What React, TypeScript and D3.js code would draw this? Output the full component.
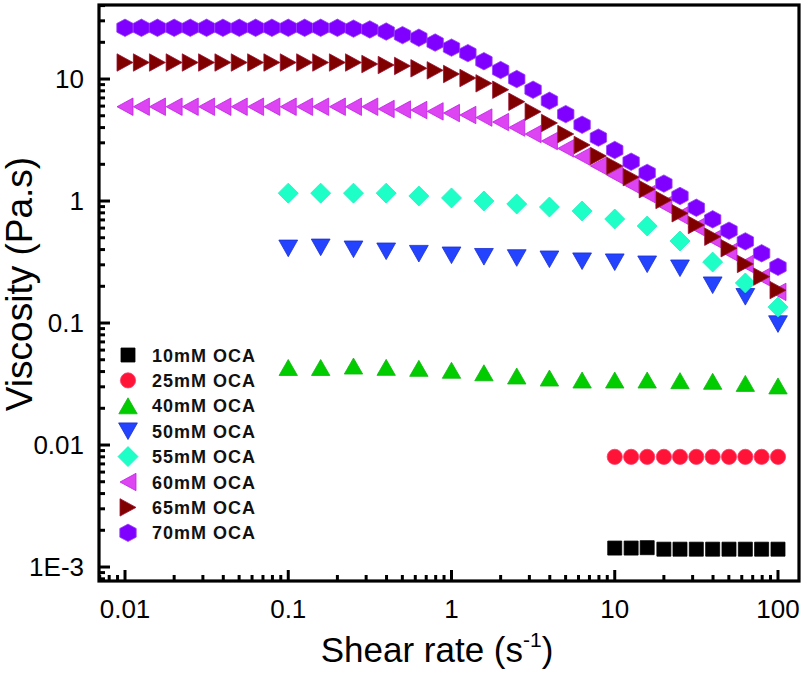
import React from 'react';
import * as d3 from 'd3';

// shear rates (s-1) of the three sweeps
const rateFine = [
  0.01, 0.0126, 0.0158, 0.02, 0.0251, 0.0316, 0.0398, 0.0501, 0.0631, 0.0794,
  0.1, 0.126, 0.158, 0.2, 0.251, 0.316, 0.398, 0.501, 0.631, 0.794,
  1, 1.26, 1.58, 2, 2.51, 3.16, 3.98, 5.01, 6.31, 7.94,
  10, 12.6, 15.8, 20, 25.1, 31.6, 39.8, 50.1, 63.1, 79.4, 100,
];
const rateCoarse = [0.1, 0.158, 0.251, 0.398, 0.631, 1, 1.58, 2.51, 3.98, 6.31, 10, 15.8, 25.1, 39.8, 63.1, 100];
const rateHigh = [10, 12.6, 15.8, 20, 25.1, 31.6, 39.8, 50.1, 63.1, 79.4, 100];

// viscosity (Pa.s)
const visc10 = [0.00143, 0.00143, 0.00144, 0.0014, 0.0014, 0.0014, 0.0014, 0.0014, 0.0014, 0.0014, 0.0014];
const visc25 = [0.008, 0.008, 0.008, 0.008, 0.008, 0.008, 0.008, 0.008, 0.008, 0.008, 0.008];
const visc40 = [0.0432, 0.0432, 0.0444, 0.0433, 0.0425, 0.041, 0.0391, 0.0368, 0.0354, 0.0341, 0.0341, 0.0341, 0.0337, 0.0333, 0.032, 0.0305];
const visc50 = [0.409, 0.417, 0.402, 0.387, 0.37, 0.359, 0.349, 0.341, 0.333, 0.321, 0.315, 0.303, 0.281, 0.204, 0.164, 0.098];
const visc55 = [1.16, 1.16, 1.16, 1.16, 1.1, 1.06, 1.0, 0.945, 0.893, 0.828, 0.712, 0.624, 0.47, 0.316, 0.213, 0.135];
const visc60 = [
  5.93, 5.93, 5.93, 5.93, 5.93, 5.93, 5.93, 5.93, 5.93, 5.93, 5.93, 5.93, 5.93, 5.93, 5.93, 5.93,
  5.68, 5.62, 5.57, 5.43, 5.26, 5.07, 4.83, 4.44, 4.0, 3.54, 3.1, 2.7, 2.31, 1.94, 1.63, 1.365,
  1.14, 0.928, 0.76, 0.612, 0.489, 0.382, 0.305, 0.238, 0.18,
];
const visc65 = [
  13.66, 13.66, 13.66, 13.66, 13.66, 13.66, 13.66, 13.66, 13.66, 13.66, 13.66, 13.66, 13.66, 13.66, 13.66,
  13.27, 13.02, 12.8, 12.24, 11.78, 10.99, 10.19, 9.22, 8.17, 6.51, 5.4, 4.36, 3.54, 2.88, 2.34, 1.94,
  1.57, 1.25, 1.02, 0.793, 0.636, 0.51, 0.41, 0.305, 0.24, 0.186,
];
const visc70 = [
  26.3, 26.3, 26.3, 26.3, 26.3, 26.3, 26.3, 26.3, 26.3, 26.3, 26.3, 26.3, 26.3, 26.3,
  25.9, 25.5, 24.5, 22.9, 21.8, 19.9, 18.1, 16.3, 14.0, 11.85, 10.0, 8.17, 6.63, 5.16, 4.22, 3.31,
  2.62, 2.1, 1.7, 1.39, 1.1, 0.881, 0.708, 0.571, 0.467, 0.373, 0.289,
];

const seriesNames = ['10mM OCA', '25mM OCA', '40mM OCA', '50mM OCA', '55mM OCA', '60mM OCA', '65mM OCA', '70mM OCA'];
const xTickLabels = ['0.01', '0.1', '1', '10', '100'];
const yTickLabels = ['1E-3', '0.01', '0.1', '1', '10'];
const xTickValues = [0.01, 0.1, 1, 10, 100];
const yTickValues = [0.001, 0.01, 0.1, 1, 10];

type Shape = 'square' | 'circle' | 'up' | 'down' | 'diamond' | 'left' | 'right' | 'hexagon';

const series: { name: string; x: number[]; y: number[]; shape: Shape; fill: string; stroke: string }[] = [
  { name: seriesNames[0], x: rateHigh, y: visc10, shape: 'square', fill: '#000000', stroke: '#000000' },
  { name: seriesNames[1], x: rateHigh, y: visc25, shape: 'circle', fill: '#ff1438', stroke: '#ff3a6a' },
  { name: seriesNames[2], x: rateCoarse, y: visc40, shape: 'up', fill: '#00cc00', stroke: '#10b810' },
  { name: seriesNames[3], x: rateCoarse, y: visc50, shape: 'down', fill: '#2343ff', stroke: '#1a2fd0' },
  { name: seriesNames[4], x: rateCoarse, y: visc55, shape: 'diamond', fill: '#1effc8', stroke: '#1ef0c0' },
  { name: seriesNames[5], x: rateFine, y: visc60, shape: 'left', fill: '#dd44f2', stroke: '#c020e8' },
  { name: seriesNames[6], x: rateFine, y: visc65, shape: 'right', fill: '#800000', stroke: '#9a1030' },
  { name: seriesNames[7], x: rateFine, y: visc70, shape: 'hexagon', fill: '#8000ff', stroke: '#9a40ff' },
];

// marker outline around (0,0)
const markerPath = (shape: Shape): string => {
  const p = d3.path();
  switch (shape) {
    case 'square':
      p.rect(-7, -7, 14, 14);
      break;
    case 'circle':
      p.arc(0, 0, 7.6, 0, 2 * Math.PI);
      break;
    case 'up':
      p.moveTo(0, -8); p.lineTo(9.2, 8); p.lineTo(-9.2, 8); p.closePath();
      break;
    case 'down':
      p.moveTo(0, 8.3); p.lineTo(9.4, -8.3); p.lineTo(-9.4, -8.3); p.closePath();
      break;
    case 'diamond':
      p.moveTo(0, -10); p.lineTo(10, 0); p.lineTo(0, 10); p.lineTo(-10, 0); p.closePath();
      break;
    case 'left':
      p.moveTo(-8, 0); p.lineTo(8, -8.7); p.lineTo(8, 8.7); p.closePath();
      break;
    case 'right':
      p.moveTo(8, 0); p.lineTo(-8, -8.7); p.lineTo(-8, 8.7); p.closePath();
      break;
    case 'hexagon':
      p.moveTo(0, -8.7); p.lineTo(8.2, -4.35); p.lineTo(8.2, 4.35);
      p.lineTo(0, 8.7); p.lineTo(-8.2, 4.35); p.lineTo(-8.2, -4.35); p.closePath();
      break;
  }
  return p.toString();
};

const W = 807;
const H = 673;
const left = 99, right = 799, top = 5, bottom = 581;

const x = d3.scaleLog().domain([0.006929, 134.5]).range([left, right]);
const y = d3.scaleLog().domain([0.000768, 40.44]).range([bottom, top]);

const minorTicks = (scale: d3.ScaleLogarithmic<number, number>) => {
  const [a, b] = scale.domain();
  const out: number[] = [];
  for (let e = Math.floor(Math.log10(a)); e <= Math.ceil(Math.log10(b)); e++) {
    for (let m = 2; m <= 9; m++) {
      const v = m * Math.pow(10, e);
      if (v >= a && v <= b) out.push(v);
    }
  }
  return out;
};

const font = '"Liberation Sans", Arial, sans-serif';

export default function App() {
  const legendX = 128;
  const legendY0 = 355;
  const legendStep = 25.4;
  return (
    <div style={{ position: 'absolute', left: 0, top: 0 }}>
      <svg width={W} height={H} style={{ display: 'block', background: '#fff' }}>
        {/* markers */}
        {series.map((s) => (
          <g key={s.name}>
            {s.x.map((xv, i) => (
              <path
                key={i}
                d={markerPath(s.shape)}
                transform={`translate(${x(xv)},${y(s.y[i])})`}
                fill={s.fill}
                stroke={s.stroke}
                strokeWidth={0.8}
              />
            ))}
          </g>
        ))}

        {/* frame */}
        <rect x={left} y={top} width={right - left} height={bottom - top} fill="none" stroke="#000" strokeWidth={3.2} />

        {/* x ticks */}
        {minorTicks(x).map((v) => (
          <line key={'xm' + v} x1={x(v)} x2={x(v)} y1={bottom} y2={bottom - 6} stroke="#000" strokeWidth={3} />
        ))}
        {xTickValues.map((v, i) => (
          <g key={'xt' + v}>
            <line x1={x(v)} x2={x(v)} y1={bottom} y2={bottom - 11} stroke="#000" strokeWidth={3} />
            <text x={x(v)} y={618} textAnchor="middle" fontFamily={font} fontSize={26} fill="#000">
              {xTickLabels[i]}
            </text>
          </g>
        ))}

        {/* y ticks */}
        {minorTicks(y).map((v) => (
          <line key={'ym' + v} x1={left} x2={left + 6} y1={y(v)} y2={y(v)} stroke="#000" strokeWidth={3} />
        ))}
        {yTickValues.map((v, i) => (
          <g key={'yt' + v}>
            <line x1={left} x2={left + 11} y1={y(v)} y2={y(v)} stroke="#000" strokeWidth={3} />
            <text x={84} y={y(v) + 9} textAnchor="end" fontFamily={font} fontSize={26} fill="#000">
              {yTickLabels[i]}
            </text>
          </g>
        ))}

        {/* axis titles */}
        <text x={437} y={662} textAnchor="middle" fontFamily={font} fontSize={35} fill="#000">
          Shear rate (s
          <tspan fontSize={21} dy={-15}>-1</tspan>
          <tspan dy={15}>)</tspan>
        </text>
        <text
          transform="translate(32,284) rotate(-90)"
          textAnchor="middle"
          fontFamily={font}
          fontSize={37}
          fill="#000"
        >
          Viscosity (Pa.s)
        </text>

        {/* legend */}
        {series.map((s, i) => (
          <g key={'lg' + s.name} transform={`translate(0,${legendY0 + i * legendStep})`}>
            <path d={markerPath(s.shape)} transform={`translate(${legendX},0)`} fill={s.fill} stroke={s.stroke} strokeWidth={0.8} />
            <text x={152} y={6.5} fontFamily={font} fontWeight="bold" fontSize={18} letterSpacing={1} fill="#111">
              {s.name}
            </text>
          </g>
        ))}
      </svg>
    </div>
  );
}
